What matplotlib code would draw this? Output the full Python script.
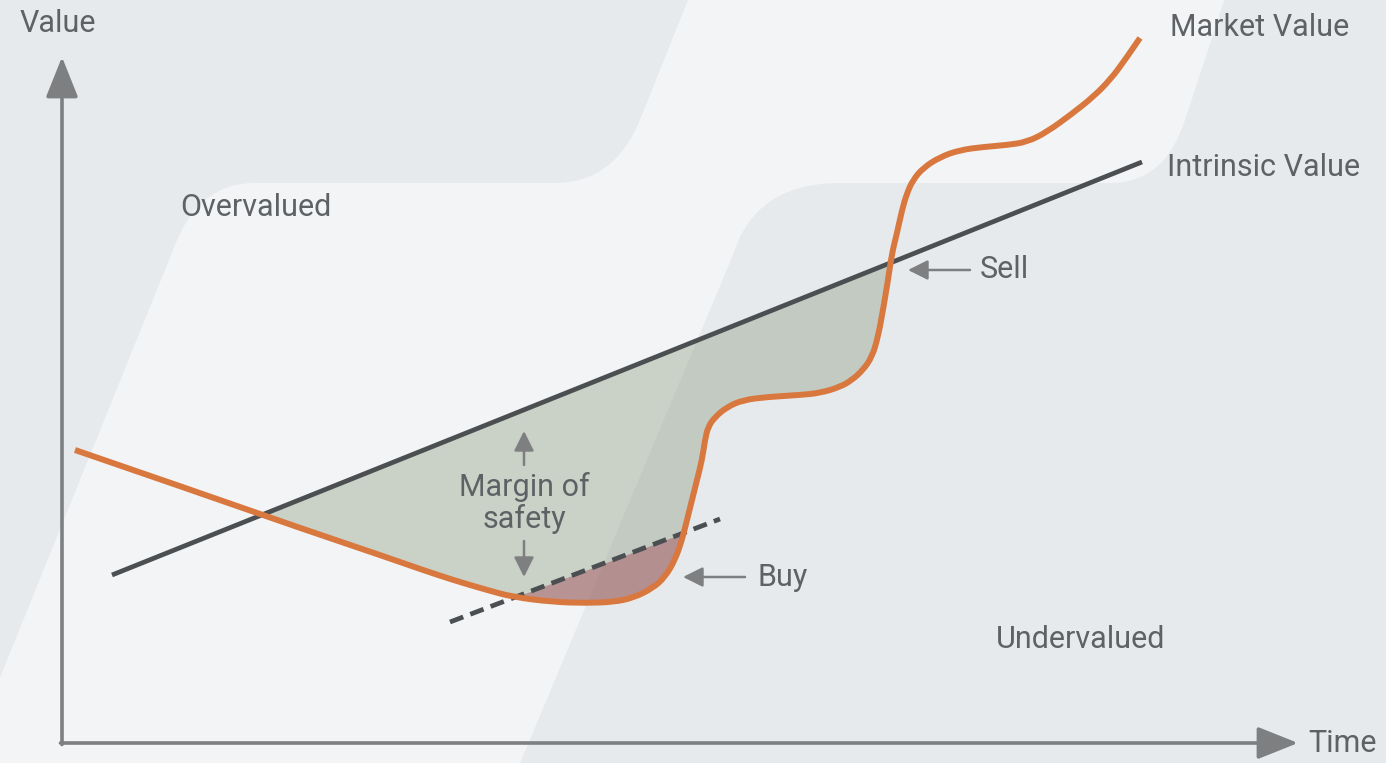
import numpy as np
import matplotlib
matplotlib.use("Agg")
import matplotlib.pyplot as plt
from matplotlib.path import Path
from matplotlib.patches import PathPatch

# ---- data (time / value units, axis origin at 0,0) ----
intrinsic_t = [50, 1080]
intrinsic_v = [168, 581]

# margin-of-safety line (intrinsic value shifted down)
buy_line_t = [388, 658]
buy_line_v = [121, 224]

market_t = [13, 138, 238, 318, 358, 391, 425, 451, 491, 525, 551, 571, 591, 603,
            613, 620, 625, 630, 635, 640, 643, 646, 653, 665, 681, 705, 738, 758,
            778, 790, 801, 810, 816, 821, 826, 830, 835, 840, 845, 851, 861, 878,
            898, 921, 945, 965, 985, 1011, 1031, 1048, 1063, 1078]
market_v = [293, 250, 215, 188, 174, 163, 153, 146, 141, 140, 141, 145, 155, 166,
            183, 203, 223, 243, 263, 283, 303, 316, 326, 336, 343, 346, 348, 350,
            356, 363, 373, 386, 406, 433, 463, 490, 510, 533, 550, 563, 575, 586,
            593, 596, 598, 601, 611, 630, 646, 663, 683, 705]

# colours
BG_LIGHT = "#f3f4f6"
BG_DARK = "#e7eaed"
ORANGE = "#d9783e"
LINE_DARK = "#4b4f52"
AXIS_GREY = "#7d7f81"
TEXT = "#5e6265"

plt.rcParams['font.family'] = ['Roboto', 'DejaVu Sans']

fig = plt.figure(figsize=(13.86, 7.63), dpi=100, facecolor=BG_LIGHT)
ax = fig.add_axes([0, 0, 1, 1])
ax.set_facecolor(BG_LIGHT)
ax.set_xlim(-62, 1324)
ax.set_ylim(-20, 743)
ax.axis('off')


def px(x, y):
    # picture pixel -> data units
    return (x - 62, 743 - y)


def shape(points, codes):
    verts = [px(*p) for p in points]
    return PathPatch(Path(verts, codes), facecolor=BG_DARK, edgecolor='none', zorder=0)


M, L, C, Z = Path.MOVETO, Path.LINETO, Path.CURVE3, Path.CLOSEPOLY
# left dark band
ax.add_patch(shape(
    [(-5, -5), (690, -5), (642, 115), (616, 183), (555, 183), (255, 183),
     (197, 183), (173, 250), (-5, 690), (-5, -5)],
    [M, L, L, C, C, L, C, C, L, Z]))
# right dark band
ax.add_patch(shape(
    [(1391, -5), (1226, -5), (1185, 120), (1165, 183), (1110, 183), (840, 183),
     (755, 183), (733, 255), (518, 768), (1391, 768), (1391, -5)],
    [M, L, L, C, C, L, C, C, L, L, Z]))

# fills
t = np.array(market_t, dtype=float)
mv = np.array(market_v, dtype=float)
iv = np.interp(t, intrinsic_t, intrinsic_v)
ax.fill_between(t, mv, iv, where=iv > mv, interpolate=True,
                color=(0.43, 0.50, 0.36), alpha=0.30, lw=0, zorder=1)

tt = np.linspace(buy_line_t[0], buy_line_t[1], 400)
mm = np.interp(tt, t, mv)
bb = np.interp(tt, buy_line_t, buy_line_v)
ax.fill_between(tt, mm, bb, where=bb > mm, interpolate=True,
                color=(0.62, 0.22, 0.28), alpha=0.40, lw=0, zorder=1)

# lines
ax.plot(intrinsic_t, intrinsic_v, color=LINE_DARK, lw=3.4, solid_capstyle='butt', zorder=3)
ax.plot(buy_line_t, buy_line_v, color=LINE_DARK, lw=3.4, dashes=(3.0, 1.6), zorder=3)

# market value drawn as a smooth path with the read points as control points
pts = list(zip(market_t, market_v))
verts = [pts[0]]
codes = [Path.MOVETO]
for i in range(1, len(pts) - 1):
    mid = ((pts[i][0] + pts[i + 1][0]) / 2, (pts[i][1] + pts[i + 1][1]) / 2)
    verts += [pts[i], mid if i < len(pts) - 2 else pts[-1]]
    codes += [Path.CURVE3, Path.CURVE3]
ax.add_patch(PathPatch(Path(verts, codes), facecolor='none', edgecolor=ORANGE,
                       lw=4.3, capstyle='butt', joinstyle='round', zorder=4))

# axes arrows
big = dict(arrowstyle='-|>,head_length=1.25,head_width=0.5', lw=2.6,
           color=AXIS_GREY, mutation_scale=20, shrinkA=0, shrinkB=0)
ax.annotate('', xy=(0, 686), xytext=(0, -1.5), arrowprops=big)
ax.annotate('', xy=(1236, 0), xytext=(-1.5, 0), arrowprops=big)

small = dict(arrowstyle='-|>,head_length=1.0,head_width=0.5', lw=1.8,
             color=AXIS_GREY, mutation_scale=12, shrinkA=0, shrinkB=0)
ax.annotate('', xy=(846, 473), xytext=(908, 473), arrowprops=small)
ax.annotate('', xy=(621, 166), xytext=(683, 166), arrowprops=small)
ax.annotate('', xy=(462, 312), xytext=(462, 278), arrowprops=small)
ax.annotate('', xy=(462, 166), xytext=(462, 202), arrowprops=small)

# labels
fs = 22
ax.text(-4, 720, "Value", color=TEXT, fontsize=fs, ha='center', va='center')
ax.text(1246, 0, "Time", color=TEXT, fontsize=fs, ha='left', va='center')
ax.text(1108, 716, "Market Value", color=TEXT, fontsize=fs, ha='left', va='center')
ax.text(1105, 576, "Intrinsic Value", color=TEXT, fontsize=fs, ha='left', va='center')
ax.text(118, 536, "Overvalued", color=TEXT, fontsize=fs, ha='left', va='center')
ax.text(934, 103, "Undervalued", color=TEXT, fontsize=fs, ha='left', va='center')
ax.text(918, 473, "Sell", color=TEXT, fontsize=fs, ha='left', va='center')
ax.text(695, 166, "Buy", color=TEXT, fontsize=fs, ha='left', va='center')
ax.text(462, 240, "Margin of\nsafety", color=TEXT, fontsize=fs, ha='center', va='center',
        linespacing=1.1)

fig.savefig("out.png", dpi=100, facecolor=BG_LIGHT)
